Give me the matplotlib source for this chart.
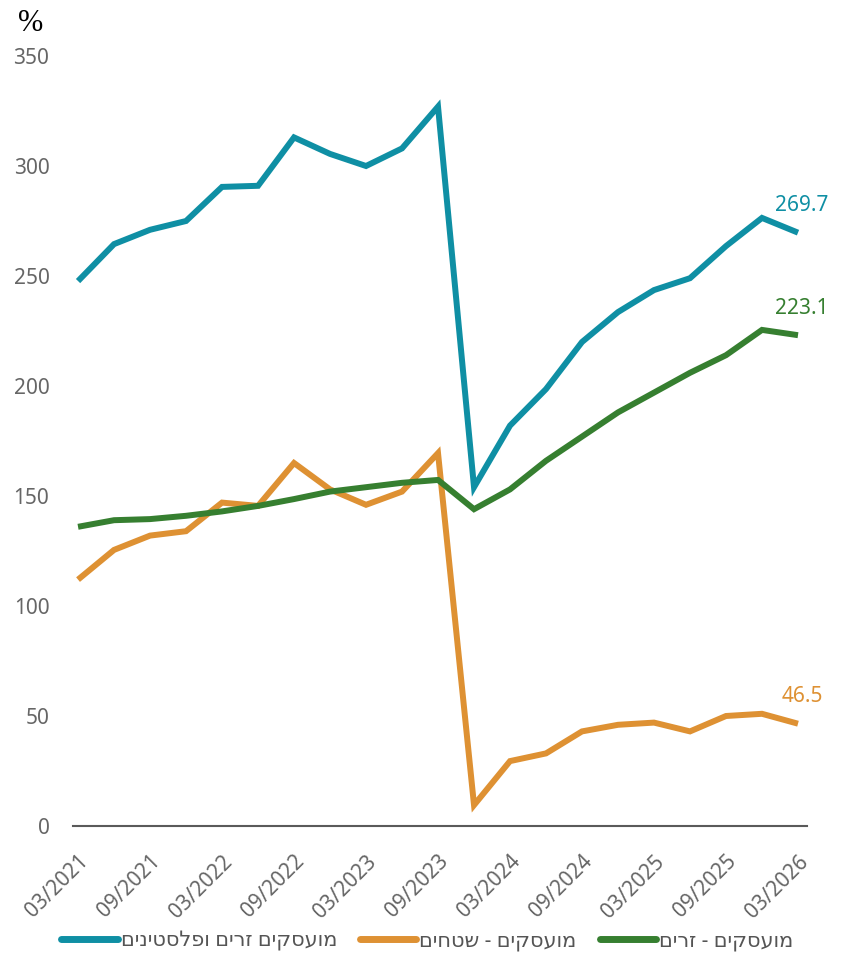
import matplotlib
matplotlib.use("Agg")
import matplotlib.pyplot as plt
import numpy as np

quarters = [
    "03/2021", "06/2021", "09/2021", "12/2021",
    "03/2022", "06/2022", "09/2022", "12/2022",
    "03/2023", "06/2023", "09/2023", "12/2023",
    "03/2024", "06/2024", "09/2024", "12/2024",
    "03/2025", "06/2025", "09/2025", "12/2025",
    "03/2026",
]

foreign_and_pal = [247.7, 264.5, 271, 275, 290.5, 291, 313, 305.5, 300, 308, 327,
                   154, 182, 198.6, 220, 233.6, 243.6, 249, 263.6, 276.4, 269.7]
territories = [112, 125.5, 132, 134, 147, 145.5, 165, 153, 146, 152, 169.5,
               9.5, 29.5, 33, 43, 46, 47, 43, 50, 51, 46.5]
foreign = [136, 139, 139.5, 141, 143, 145.5, 148.6, 152, 154, 156, 157.3,
           144, 153, 166, 177, 188, 197, 206, 214, 225.5, 223.1]

labels = ["מועסקים זרים ופלסטינים", "מועסקים - שטחים", "מועסקים - זרים"]
colors = ["#0f8fa4", "#de9133", "#367f30"]
yticks = [0, 50, 100, 150, 200, 250, 300, 350]


def rtl(s: str) -> str:
    # matplotlib has no bidi support, so flip Hebrew strings by hand
    return s[::-1]


plt.rcParams["font.family"] = ["Noto Sans", "DejaVu Sans"]

fig = plt.figure(figsize=(8.46, 9.58), dpi=100)
ax = fig.add_axes([73 / 846, 132 / 958, 734 / 846, 770 / 958])

x = np.arange(len(quarters))
series = [foreign_and_pal, territories, foreign]
for vals, lab, col in zip(series, labels, colors):
    ax.plot(x, vals, color=col, lw=4.3, solid_joinstyle="miter",
            solid_capstyle="butt", label=rtl(lab))
    ax.annotate(f"{vals[-1]:.1f}", (x[-1], vals[-1]), xytext=(3, 12),
                textcoords="offset points", ha="center", va="bottom",
                color=col, fontsize=15)

ax.set_xlim(-0.14, len(quarters) - 1 + 0.25)
ax.set_ylim(0, 350)
ax.set_yticks(yticks)
ax.set_xticks(x[::2])
ax.set_xticklabels(quarters[::2], rotation=45, ha="right", va="top",
                   rotation_mode="anchor")
ax.tick_params(axis="both", length=0, colors="#666666", labelsize=15)
ax.tick_params(axis="y", pad=17)
ax.tick_params(axis="x", pad=18)
for side in ["top", "right", "left"]:
    ax.spines[side].set_visible(False)
ax.spines["bottom"].set_color("#5a5a5a")
ax.spines["bottom"].set_linewidth(1.5)

fig.text(18 / 846, 1 - 31 / 958, "%", family="Liberation Serif", fontsize=22,
         color="black")

leg = fig.legend(loc="lower center", bbox_to_anchor=(0.505, -0.013), ncol=3,
                 frameon=False, fontsize=15, handlelength=2.7,
                 handletextpad=0.15, columnspacing=1.1, labelcolor="#555555")
for h in leg.get_lines():
    h.set_linewidth(5)
    h.set_solid_capstyle("round")

fig.savefig("out.png", dpi=100)
